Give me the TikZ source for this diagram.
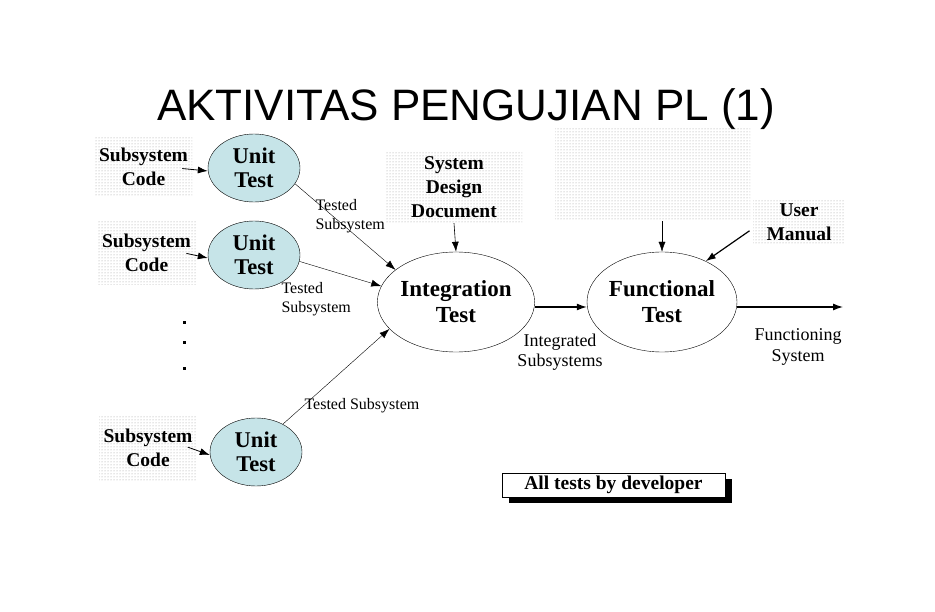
\documentclass[tikz,border=0pt]{standalone}
\usepackage{fontspec}
\setmainfont{Liberation Serif}
\newfontfamily\titlefont{Liberation Sans}
\usepackage{tikz}
\usetikzlibrary{arrows.meta,positioning,calc,shapes,patterns,shadows}

\definecolor{unitblue}{RGB}{198,228,232}

\begin{document}
\begin{tikzpicture}[x=1pt, y=-1pt,
    codebox/.style={pattern=dots, pattern color=gray!80, align=center, inner sep=0pt,
      font=\fontsize{19.5}{24}\selectfont\bfseries},
    unit/.style={ellipse, draw, fill=unitblue, minimum width=92pt, minimum height=68pt,
      inner sep=0pt, align=center, font=\fontsize{22.5}{24}\selectfont\bfseries},
    bigtest/.style={ellipse, draw, minimum width=140pt, minimum height=100pt,
      inner sep=0pt, align=center, font=\fontsize{23}{26}\selectfont\bfseries},
    lbl/.style={align=left, font=\fontsize{16}{19}\selectfont},
    dotmark/.style={fill=black, minimum size=3pt, inner sep=0pt},
    tip/.style={-{Latex[length=10pt, width=7pt]}}]
    \useasboundingbox (0,0) rectangle (935,612);

    \node[anchor=base, font=\titlefont\fontsize{44}{48}\selectfont] (title) at (466,121)
      {AKTIVITAS PENGUJIAN PL (1)};

    % subsystem code and unit tests
    \node[codebox, minimum width=97pt, minimum height=61pt] (sc1) at (143.5,166.5) {Subsystem\\Code};
    \node[codebox, minimum width=99pt, minimum height=65pt] (sc2) at (146.5,252.5) {Subsystem\\Code};
    \node[codebox, minimum width=98pt, minimum height=65pt] (sc3) at (148,447.5) {Subsystem\\Code};

    \node[unit] (ut1) at (254,168) {Unit\\Test};
    \node[unit] (ut2) at (254,255) {Unit\\Test};
    \node[unit] (ut3) at (256,452) {Unit\\Test};

    \foreach \i in {1,2,3}
      \draw[thick, tip, shorten <=-10pt] ([yshift=-3pt]sc\i.east) -- ([yshift=-3pt]ut\i.west);

    \foreach \y [count=\k] in {323,343,369}
      \node[dotmark] (dot\k) at (184,\y) {};

    % integration and functional tests
    \node[bigtest] (it) at (456,302) {Integration\\Test};
    \node[bigtest, minimum width=136pt] (ft) at (662,302) {Functional\\Test};

    \node[codebox, minimum width=136pt, minimum height=71pt] (sdd) at (454,187.5)
      {System\\Design\\Document};
    \node[codebox, minimum width=195pt, minimum height=94pt] (eb) at (652.5,174) {};
    \node[codebox, minimum width=92pt, minimum height=45pt] (um) at (799,222.5) {User\\Manual};

    \draw[tip] (ut1.-21) -- (it.152);
    \draw[tip] (ut2.-8) -- (it.168);
    \draw[tip] (ut3.46) -- (it.-158);

    \node[lbl, anchor=west] (ts1) at (312,216) {Tested\\Subsystem};
    \node[lbl, anchor=west] (ts2) at (278,299) {Tested\\Subsystem};
    \node[lbl, anchor=west] (ts3) at (301,406) {Tested Subsystem};

    \draw[semithick, tip] (sdd.south) -- (it.north);
    \draw[tip] (eb.south -| ft.north) -- (ft.north);
    \draw[very thick, tip, shorten <=4pt] ([yshift=-6pt]um.west) -- (ft.43);

    \draw[very thick, tip] ([yshift=-5pt]it.east) -- ([yshift=-5pt]ft.west);
    \coordinate (out) at (843,307);
    \draw[very thick, tip] ([yshift=-5pt]ft.east) -- (out);

    \node[align=center, font=\fontsize{18}{20}\selectfont] (isub) at (560,352)
      {Integrated\\Subsystems};
    \node[align=center, font=\fontsize{18}{21}\selectfont] (fsys) at (798,347)
      {Functioning\\System};

    % footer box
    \node[draw, fill=white, minimum width=223pt, minimum height=24pt, inner sep=0pt,
      drop shadow={shadow xshift=7pt, shadow yshift=-6pt, fill=black, opacity=1},
      font=\fontsize{19.5}{20}\selectfont\bfseries] (dev) at (613.5,485) {All tests by developer};
\end{tikzpicture}
\end{document}
